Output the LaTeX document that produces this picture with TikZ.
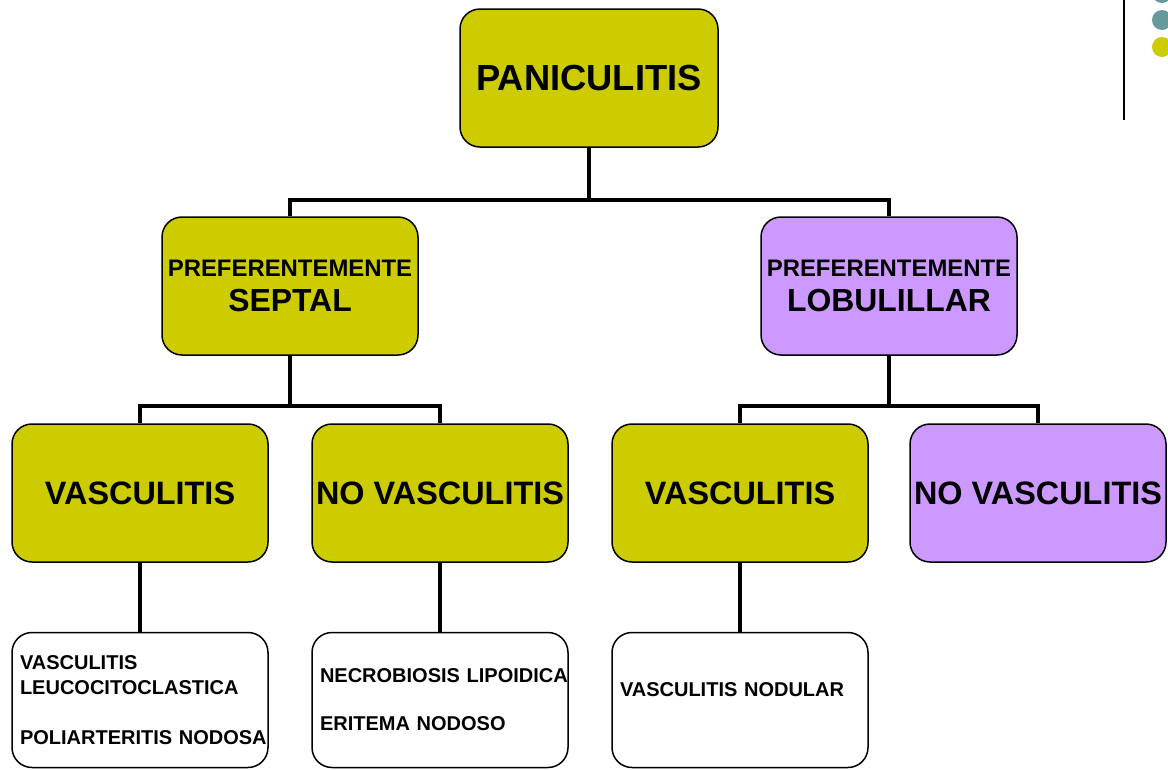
\documentclass[tikz,border=0pt]{standalone}
\usepackage{fontspec}
\setmainfont{Liberation Sans}
\usepackage{tikz}
\usetikzlibrary{positioning}

\definecolor{olivebox}{RGB}{204,204,0}
\definecolor{lilacbox}{RGB}{204,153,255}
\definecolor{tealdot}{RGB}{102,153,153}

\begin{document}
\begin{tikzpicture}[x=1pt,y=-1pt,
    box/.style={draw, line width=1.5pt, rounded corners=20pt, minimum width=256pt, minimum height=138pt, inner sep=0pt, align=center, font=\bfseries},
    leafbox/.style={draw, line width=1.5pt, rounded corners=20pt, minimum width=256pt, minimum height=135pt, inner sep=0pt, text width=240pt, align=left, font=\bfseries\fontsize{20}{25}\selectfont},
    conn/.style={line width=3.5pt}]
            \useasboundingbox (0,0) rectangle (1168,769);

            % corner marks
            \draw[line width=2pt] (1124,0) -- (1124,120);
            \fill[tealdot] (1162,-7) circle (10);
            \fill[tealdot] (1162,20) circle (10);
            \fill[olivebox] (1162,47) circle (10);

            % top
            \node[box, fill=olivebox, minimum width=258pt, font=\bfseries\fontsize{36.3}{40}\selectfont] (pan) at (589,78) {PANICULITIS};

            % second level
            \node[box, fill=olivebox] (septal) at (290,286) {\fontsize{23.9}{26}\selectfont PREFERENTEMENTE\\[11pt]\fontsize{31.9}{34}\selectfont SEPTAL};
            \node[box, fill=lilacbox] (lobul) at (889,286) {\fontsize{23.9}{26}\selectfont PREFERENTEMENTE\\[11pt]\fontsize{31.9}{34}\selectfont LOBULILLAR};

            % third level
            \node[box, fill=olivebox, font=\bfseries\fontsize{32.4}{34}\selectfont] (vascA) at (140,493) {VASCULITIS};
            \node[box, fill=olivebox, font=\bfseries\fontsize{32.4}{34}\selectfont] (novascA) at (440,493) {NO VASCULITIS};
            \node[box, fill=olivebox, font=\bfseries\fontsize{32.4}{34}\selectfont] (vascB) at (740,493) {VASCULITIS};
            \node[box, fill=lilacbox, font=\bfseries\fontsize{32.4}{34}\selectfont] (novascB) at (1038,493) {NO VASCULITIS};

            % leaves
            \node[leafbox] (leafA) at (140,700) {\mbox{VASCULITIS}\\\mbox{LEUCOCITOCLASTICA}\\[25pt]\mbox{POLIARTERITIS NODOSA}};
            \node[leafbox] (leafB) at (440,700) {\mbox{NECROBIOSIS LIPOIDICA}\\[23pt]\mbox{ERITEMA NODOSO}};
            \node[leafbox] (leafC) at (740,700) {\mbox{VASCULITIS NODULAR}\\[-4pt]\mbox{}};

            % connectors
            \draw[conn] (pan.south) -- ++(0,52) coordinate (topbar);
            \draw[conn] (septal.north) |- (topbar) -| (lobul.north);
            \draw[conn] (septal.south) -- ++(0,50) coordinate (leftbar);
            \draw[conn] (vascA.north) |- (leftbar) -| (novascA.north);
            \draw[conn] (lobul.south) -- ++(0,50) coordinate (rightbar);
            \draw[conn] (vascB.north) |- (rightbar) -| (novascB.north);
            \draw[conn] (vascA.south) -- (leafA.north);
            \draw[conn] (novascA.south) -- (leafB.north);
            \draw[conn] (vascB.south) -- (leafC.north);

\end{tikzpicture}
\end{document}
